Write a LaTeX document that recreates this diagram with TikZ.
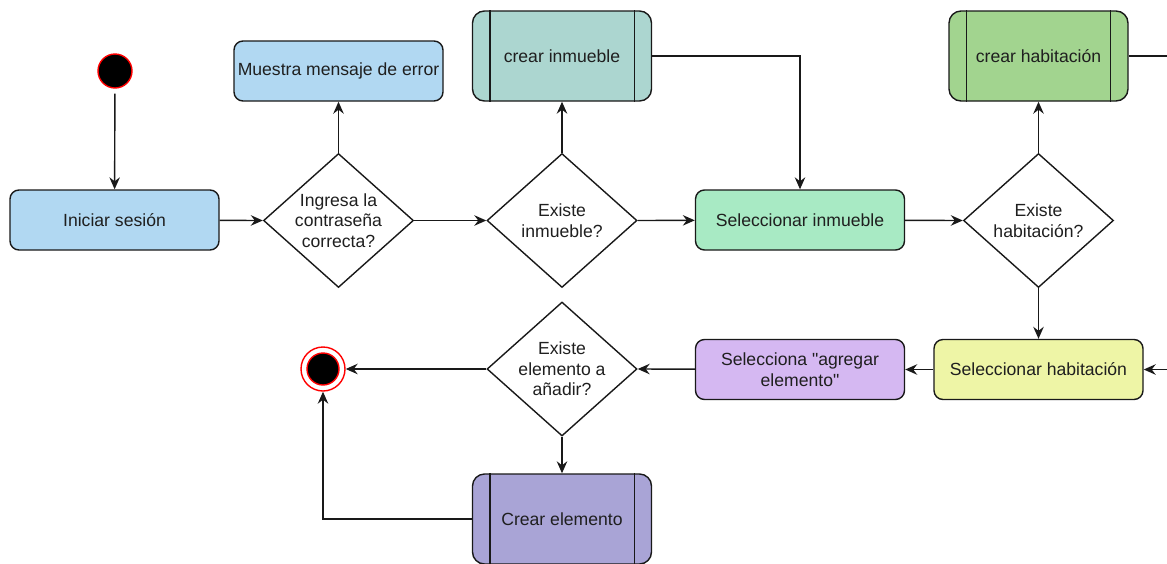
\documentclass[tikz,border=0pt]{standalone}
\usepackage{fontspec}
\setmainfont{Liberation Sans}
% plain family without TeX ligature mapping, so " stays a straight quote
\newfontfamily\labelfont{Liberation Sans}
\usetikzlibrary{shapes.geometric,arrows.meta}

\definecolor{cblue}{RGB}{177,216,242}
\definecolor{cteal}{RGB}{172,214,208}
\definecolor{cmint}{RGB}{168,234,196}
\definecolor{cgreen}{RGB}{162,212,143}
\definecolor{cyellow}{RGB}{238,245,166}
\definecolor{clilac}{RGB}{213,184,242}
\definecolor{cpurple}{RGB}{169,164,214}
\definecolor{cred}{RGB}{255,0,0}

\tikzset{
  every node/.style={font=\labelfont\fontsize{17.6}{20.5}\selectfont, text=black!88},
  line/.style={line width=1.4pt, draw=black!90},
  arr/.style={line, -{Stealth[length=12pt,width=10.5pt,inset=4pt]}},
  actbox/.style={line, rounded corners=9pt, minimum width=209pt, minimum height=60pt,
    inner sep=0pt, align=center},
  subbox/.style={line, rounded corners=12pt, minimum width=179pt, minimum height=90pt,
    inner sep=0pt, align=center},
  decision/.style={line, diamond, fill=white, minimum width=150pt, minimum height=134pt,
    inner sep=0pt},
  dtext/.style={align=center, inner sep=0pt},
  startstate/.style={circle, fill=black, draw=cred, line width=1.4pt, minimum size=34pt, inner sep=0pt},
}

\begin{document}
\begin{tikzpicture}[x=1pt,y=-1pt]
  \useasboundingbox (0,0) rectangle (1167,563);

  % states
  \node[startstate] (start) at (115,71) {};
  \node[circle, draw=cred, line width=1.4pt, minimum size=44pt, inner sep=0pt] (end) at (323,369) {};
  \node[startstate, minimum size=32pt] at (end) {};

  % activities
  \node[actbox, fill=cblue] (login) at (114.5,220) {Iniciar sesión};
  \node[actbox, fill=cblue] (error) at (338.5,71) {Muestra mensaje de error};
  \node[actbox, fill=cmint] (selinm) at (800,220) {Seleccionar inmueble};
  \node[actbox, fill=cyellow] (selhab) at (1038.5,369.5) {Seleccionar habitación};
  \node[actbox, fill=clilac] (selelem) at (800,369.5) {Selecciona "agregar\\elemento"};

  % sub-processes
  \node[subbox, fill=cteal] (crinm) at (562,56) {crear inmueble};
  \node[subbox, fill=cgreen] (crhab) at (1038.5,56) {crear habitación};
  \node[subbox, fill=cpurple] (crelem) at (562,519) {Crear elemento};
  \foreach \n in {crinm,crhab,crelem}{
    \draw[line] ([xshift=18pt]\n.north west) -- ([xshift=18pt]\n.south west);
    \draw[line] ([xshift=-18pt]\n.north east) -- ([xshift=-18pt]\n.south east);
  }

  % decisions
  \node[decision] (dpass) at (338.5,220.5) {};
  \node[dtext] at (dpass) {Ingresa la\\contraseña\\correcta?};
  \node[decision] (dinm) at (562,220.5) {};
  \node[dtext] at (dinm) {Existe\\inmueble?};
  \node[decision] (dhab) at (1038.5,220.5) {};
  \node[dtext] at (dhab) {Existe\\habitación?};
  \node[decision] (delem) at (562,369) {};
  \node[dtext] at (delem) {Existe\\elemento a\\añadir?};

  % flow
  \draw[arr, shorten <=5pt] (start) -- (login);
  \draw[arr] (login) -- (dpass.west);
  \draw[arr] (dpass.north) -- (error);
  \draw[arr] (dpass.east) -- (dinm.west);
  \draw[arr] (dinm.north) -- (crinm);
  \draw[arr] (crinm.east) -| (selinm.north);
  \draw[arr] (dinm.east) -- (selinm);
  \draw[arr] (selinm) -- (dhab.west);
  \draw[arr] (dhab.north) -- (crhab);
  \coordinate (loop) at (1190,56);
  \draw[arr] (crhab.east) -- (loop) |- (selhab.east);
  \draw[arr] (dhab.south) -- (selhab);
  \draw[arr] (selhab) -- (selelem);
  \draw[arr] (selelem) -- (delem.east);
  \draw[arr] (delem.west) -- (end);
  \draw[arr] (delem.south) -- (crelem);
  \draw[arr] (crelem.west) -| (end.south);
\end{tikzpicture}
\end{document}
